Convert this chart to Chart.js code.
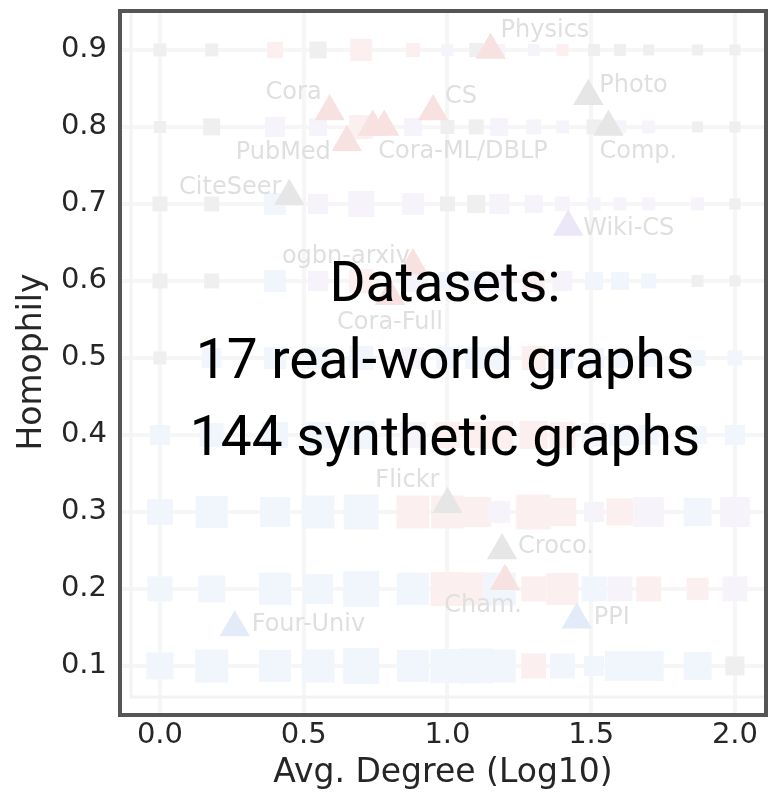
<!DOCTYPE html>
<html>
<head>
<meta charset="utf-8">
<script src="https://cdn.jsdelivr.net/npm/chart.js@4.4.1/dist/chart.umd.min.js"></script>
<style>
html, body { margin: 0; padding: 0; background: #fff; }
#wrap { width: 779px; height: 800px; }
</style>
</head>
<body>
<div id="wrap"><canvas id="HomChart" width="779" height="800"></canvas></div>
<script>
// synthetic graphs: grid of avg degree (log10) x homophily
var degreeLevels = [0.00, 0.18, 0.40, 0.55, 0.70, 0.88, 1.00, 1.10, 1.18, 1.30, 1.40, 1.51, 1.60, 1.70, 1.87, 2.00];
var homophilyLevels = [0.9, 0.8, 0.7, 0.6, 0.5, 0.4, 0.3, 0.2, 0.1];
// winning model family per synthetic graph (g / r / b / p), one string per homophily row
var synthWinner = [
    'ggrgrrpgpprggggg',
    'ggpprpggpppgppgg',
    'ggbpppggpppppppg',
    'ggbprpbbprpbbbgg',
    'gbbbbpbbbrbbbbbb',
    'bbbbbprrrrrpbbbb',
    'bbbbbrrrprrprpbp',
    'bbbbbbrrbrrbprrp',
    'bbbbbbbbbrbbbbbg'
];
// performance gap per synthetic graph (drawn as marker size)
var synthGap = [
    [3, 3, 6, 7, 12, 4, 2, 4, 2, 2, 2, 2, 2, 1, 1, 1],
    [2, 7, 10, 8, 14, 8, 4, 5, 8, 5, 3, 5, 3, 3, 1, 1],
    [5, 5, 12, 10, 16, 12, 5, 8, 10, 8, 5, 3, 3, 3, 3, 1],
    [5, 5, 12, 10, 14, 12, 8, 10, 12, 12, 10, 8, 8, 5, 2, 1],
    [3, 10, 12, 12, 14, 12, 12, 12, 14, 14, 12, 10, 10, 8, 6, 5],
    [10, 14, 16, 16, 18, 16, 16, 16, 18, 18, 16, 14, 12, 10, 8, 10],
    [16, 22, 20, 23, 25, 23, 23, 20, 12, 25, 18, 10, 17, 20, 18, 20],
    [15, 17, 22, 20, 26, 22, 24, 23, 23, 15, 22, 15, 15, 15, 12, 15],
    [17, 23, 22, 23, 26, 22, 24, 25, 23, 15, 15, 10, 20, 20, 18, 9]
];

// real-world graphs
var realNames = ['Physics', 'Cora', 'CS', 'PubMed', 'Cora-ML', 'DBLP', 'Photo', 'Comp.', 'CiteSeer',
    'Wiki-CS', 'ogbn-arxiv', 'Cora-Full', 'Flickr', 'Croco.', 'Cham.', 'PPI', 'Four-Univ'];
var realLabels = ['Physics', 'Cora', 'CS', 'PubMed', '', 'Cora-ML/DBLP', 'Photo', 'Comp.', 'CiteSeer',
    'Wiki-CS', 'ogbn-arxiv', 'Cora-Full', 'Flickr', 'Croco.', 'Cham.', 'PPI', 'Four-Univ'];
var realDegree = [1.15, 0.59, 0.95, 0.65, 0.74, 0.78, 1.49, 1.56, 0.45, 1.42, 0.88, 0.80, 1.00, 1.19, 1.20, 1.45, 0.26];
var realHomophily = [0.90, 0.82, 0.82, 0.78, 0.80, 0.80, 0.84, 0.80, 0.71, 0.67, 0.62, 0.58, 0.31, 0.25, 0.21, 0.16, 0.15];
var realWinner = ['r', 'r', 'r', 'r', 'r', 'r', 'g', 'g', 'g', 'p', 'r', 'r', 'g', 'g', 'r', 'b', 'b'];

// label placement next to each triangle: dx, dy (px), text align
var labelPlace = [
    [10, -19, 'left'], [-8, -19, 'right'], [12, -15, 'left'], [-16, 10, 'right'],
    [0, 0, 'left'], [-6, 25, 'left'], [11, -10, 'left'], [-9, 25, 'left'],
    [-8, -8, 'right'], [15, 2, 'left'], [-3, -9, 'right'], [0, 26, 'center'],
    [-8, -23, 'right'], [16, -4, 'left'], [17, 25, 'right'], [17, -2, 'left'], [17, -3, 'left']
];

var squareColors = { g: '#efefef', r: '#fcefef', b: '#f1f5fc', p: '#f6f3fa' };
var triColors = { g: '#e6e6e6', r: '#f8e1e1', b: '#e3ebf8', p: '#ebe7f6' };

var synthPoints = [];
homophilyLevels.forEach(function (h, r) {
    degreeLevels.forEach(function (d, c) {
        synthPoints.push({ x: d, y: h, w: synthWinner[r][c], g: synthGap[r][c] });
    });
});
var realPoints = realNames.map(function (n, i) {
    return { x: realDegree[i], y: realHomophily[i], w: realWinner[i] };
});

var overlayText = ['Datasets:', realNames.length + ' real-world graphs', synthPoints.length + ' synthetic graphs'];

var decorPlugin = {
    id: 'decor',
    beforeDatasetsDraw: function (chart) {
        var ctx = chart.ctx, a = chart.chartArea;
        // faded inner spines of the original axes
        ctx.save();
        ctx.strokeStyle = '#f3f3f3';
        ctx.lineWidth = 3;
        ctx.beginPath();
        ctx.moveTo(a.left + 11, a.top);
        ctx.lineTo(a.left + 11, a.bottom - 17);
        ctx.lineTo(a.right, a.bottom - 17);
        ctx.stroke();
        ctx.restore();
    },
    afterDatasetsDraw: function (chart) {
        var ctx = chart.ctx;
        var meta = chart.getDatasetMeta(0);
        ctx.save();
        ctx.font = '24px "DejaVu Sans"';
        ctx.fillStyle = '#dfdfdf';
        ctx.textBaseline = 'middle';
        meta.data.forEach(function (pt, i) {
            var p = labelPlace[i];
            ctx.textAlign = p[2];
            ctx.fillText(realLabels[i], pt.x + p[0], pt.y + p[1]);
        });
        ctx.restore();
    },
    afterDraw: function (chart) {
        var ctx = chart.ctx, a = chart.chartArea;
        ctx.save();
        ctx.font = '55px Roboto';
        ctx.fillStyle = '#000';
        ctx.textAlign = 'center';
        ctx.textBaseline = 'alphabetic';
        overlayText.forEach(function (t, i) {
            ctx.fillText(t, (a.left + a.right) / 2 + 2, 301 + i * 77);
        });
        ctx.strokeStyle = '#555555';
        ctx.lineWidth = 4;
        ctx.strokeRect(a.left, a.top + 1, a.right - a.left, a.bottom - a.top);
        ctx.restore();
    }
};

function noEdgePadding(s) {
    s.paddingTop = 0;
    s.paddingBottom = 0;
    s.paddingLeft = 0;
    s.paddingRight = 0;
}

var ctx = document.getElementById('HomChart').getContext('2d');
var HomChart = new Chart(ctx, {
    type: 'scatter',
    plugins: [decorPlugin],
    data: {
        datasets: [{
            label: 'real-world',
            data: realPoints,
            pointStyle: 'triangle',
            pointRadius: 17.5,
            pointBorderWidth: 0,
            pointBackgroundColor: function (c) { return triColors[c.raw.w]; }
        }, {
            label: 'synthetic',
            data: synthPoints,
            pointStyle: 'rect',
            pointRadius: function (c) { return (10 + c.raw.g) / Math.SQRT2; },
            pointBorderWidth: 0,
            pointBackgroundColor: function (c) { return squareColors[c.raw.w]; }
        }]
    },
    options: {
        responsive: false,
        animation: false,
        layout: { autoPadding: false, padding: { top: 10, right: 13, left: 0, bottom: 0 } },
        plugins: {
            legend: { display: false },
            tooltip: { enabled: false }
        },
        scales: {
            x: {
                type: 'linear',
                min: -0.139,
                max: 2.108,
                afterFit: function (s) { s.height = 86; noEdgePadding(s); },
                border: { display: false },
                grid: { color: '#f6f6f6', lineWidth: 4, drawTicks: false },
                ticks: {
                    stepSize: 0.5,
                    includeBounds: false,
                    padding: 4,
                    color: '#262626',
                    font: { family: 'DejaVu Sans', size: 29 },
                    callback: function (v) { return v.toFixed(1); }
                },
                title: {
                    display: true,
                    text: 'Avg. Degree (Log10)',
                    color: '#262626',
                    font: { family: 'DejaVu Sans', size: 33 },
                    padding: { top: 0, bottom: 7 }
                }
            },
            y: {
                type: 'linear',
                min: 0.0376,
                max: 0.9519,
                afterFit: function (s) { s.width = 120; noEdgePadding(s); },
                border: { display: false },
                grid: { color: '#f6f6f6', lineWidth: 4, drawTicks: false },
                ticks: {
                    stepSize: 0.1,
                    includeBounds: false,
                    padding: 13,
                    color: '#262626',
                    font: { family: 'DejaVu Sans', size: 29 },
                    callback: function (v) { return v.toFixed(1); }
                },
                title: {
                    display: true,
                    text: 'Homophily',
                    color: '#262626',
                    font: { family: 'DejaVu Sans', size: 33 },
                    padding: { top: 13, bottom: 0 }
                }
            }
        }
    }
});
</script>
</body>
</html>
